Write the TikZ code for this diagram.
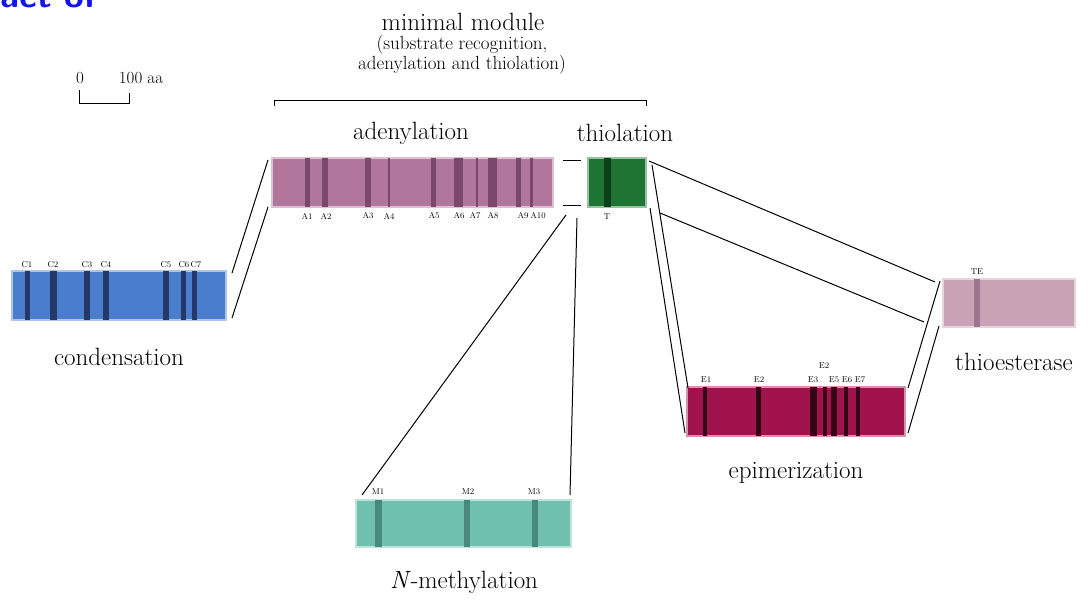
\documentclass[tikz,border=0pt]{standalone}
\usepackage{tikz}
\usepackage{amsmath}
\usepackage{amssymb}

\definecolor{condcol}{RGB}{74,126,204}
\definecolor{condbar}{RGB}{36,56,104}
\definecolor{adencol}{RGB}{176,118,156}
\definecolor{adenbar}{RGB}{122,72,108}
\definecolor{thiocol}{RGB}{30,116,50}
\definecolor{thiobar}{RGB}{14,62,26}
\definecolor{nmethcol}{RGB}{112,192,176}
\definecolor{nmethbar}{RGB}{72,136,126}
\definecolor{epimcol}{RGB}{160,18,76}
\definecolor{epimbar}{RGB}{52,2,22}
\definecolor{thioecol}{RGB}{202,162,182}
\definecolor{thioebar}{RGB}{160,116,142}
\definecolor{notecol}{RGB}{20,20,240}

\begin{document}
\begin{tikzpicture}[x=1pt, y=-1pt,
		domain/.style={fill=#1, draw=#1!45!white, line width=1.2pt, inner sep=0pt, outer sep=0pt},
		bigtext/.style={font=\fontsize{25}{27}\selectfont, inner sep=0pt},
		subtext/.style={font=\fontsize{19}{21}\selectfont, inner sep=0pt},
		scaletext/.style={font=\fontsize{17}{19}\selectfont, inner sep=0pt},
		tag/.style={font=\fontsize{8.5}{9}\selectfont, inner sep=0pt},
		link/.style={line width=1pt}]
				\useasboundingbox (0, 0) rectangle (1091, 601);
				\node[anchor=base west, text=notecol, font=\fontsize{36}{38}\selectfont\sffamily\bfseries] (note)at(-3, 8) {act of};
				% scale bar
				\node[scaletext] (sc0)at(80, 78) {0};
				\node[scaletext] (sc100)at(141, 78) {100 aa};
				\draw[line width=0.8pt] (79, 90) -- (79, 103) -- (129, 103) -- (129, 93);
				% module title
				\node[bigtext] (title)at(463, 22) {minimal module};
				\node[subtext] (sub1)at(462, 45) {(substrate recognition,};
				\node[subtext] (sub2)at(462, 65) {adenylation and thiolation)};
				\node[bigtext] (adenlbl)at(411, 133) {adenylation};
				\node[bigtext] (thiolbl)at(625, 133) {thiolation};
				\node[bigtext] (condlbl)at(119, 357) {condensation};
				\node[bigtext] (epimlbl)at(796, 473) {epimerization};
				\node[bigtext] (thioelbl)at(1014, 362) {thioesterase};
				\node[bigtext] (nmethlbl)at(464, 582) {\textit{N}-methylation};
				% domains
				\node[domain=condcol, minimum width=214pt, minimum height=49pt] (cond)at(119, 295.5) {};
				\node[domain=adencol, minimum width=281pt, minimum height=49pt] (aden)at(412.5, 182.5) {};
				\node[domain=thiocol, minimum width=58pt, minimum height=49pt] (thio)at(617, 182.5) {};
				\node[domain=nmethcol, minimum width=215pt, minimum height=47pt] (nmeth)at(463.5, 523.5) {};
				\node[domain=epimcol, minimum width=218pt, minimum height=49pt] (epim)at(796, 411.5) {};
				\node[domain=thioecol, minimum width=132pt, minimum height=48pt] (thioe)at(1009, 303) {};
				% motifs
				\fill[condbar] (25, 271) rectangle (30, 320);
				\fill[condbar] (50, 271) rectangle (57, 320);
				\fill[condbar] (84, 271) rectangle (90, 320);
				\fill[condbar] (103, 271) rectangle (109, 320);
				\fill[condbar] (163, 271) rectangle (169, 320);
				\fill[condbar] (181, 271) rectangle (186, 320);
				\fill[condbar] (192, 271) rectangle (197, 320);
				\fill[adenbar] (305, 158) rectangle (310, 207);
				\fill[adenbar] (322, 158) rectangle (328, 207);
				\fill[adenbar] (365, 158) rectangle (371, 207);
				\fill[adenbar] (388, 158) rectangle (390, 207);
				\fill[adenbar] (431, 158) rectangle (436, 207);
				\fill[adenbar] (454, 158) rectangle (463, 207);
				\fill[adenbar] (476, 158) rectangle (478, 207);
				\fill[adenbar] (488, 158) rectangle (497, 207);
				\fill[adenbar] (516, 158) rectangle (521, 207);
				\fill[adenbar] (530, 158) rectangle (533, 207);
				\fill[thiobar] (604, 158) rectangle (611, 207);
				\fill[nmethbar] (375, 500) rectangle (382, 547);
				\fill[nmethbar] (464, 500) rectangle (470, 547);
				\fill[nmethbar] (532, 500) rectangle (538, 547);
				\fill[epimbar] (703, 387) rectangle (707, 436);
				\fill[epimbar] (756, 387) rectangle (761, 436);
				\fill[epimbar] (810, 387) rectangle (817, 436);
				\fill[epimbar] (823, 387) rectangle (827, 436);
				\fill[epimbar] (831, 387) rectangle (837, 436);
				\fill[epimbar] (844, 387) rectangle (848, 436);
				\fill[epimbar] (856, 387) rectangle (860, 436);
				\fill[thioebar] (974, 279) rectangle (980, 327);
				% motif names
				\node[tag] (c1)at(27, 265) {C1};
				\node[tag] (c2)at(53, 265) {C2};
				\node[tag] (c3)at(87, 265) {C3};
				\node[tag] (c4)at(106, 265) {C4};
				\node[tag] (c5)at(166, 265) {C5};
				\node[tag] (c6)at(184, 265) {C6};
				\node[tag] (c7)at(196, 265) {C7};
				\node[tag] (a1)at(307, 216) {A1};
				\node[tag] (a2)at(326, 216) {A2};
				\node[tag] (a3)at(368, 216) {A3};
				\node[tag] (a4)at(389, 216) {A4};
				\node[tag] (a5)at(434, 216) {A5};
				\node[tag] (a6)at(459, 216) {A6};
				\node[tag] (a7)at(475, 216) {A7};
				\node[tag] (a8)at(493, 216) {A8};
				\node[tag] (a9)at(523, 216) {A9};
				\node[tag] (a10)at(538, 216) {A10};
				\node[tag] (t)at(607, 217) {T};
				\node[tag] (m1)at(378, 492) {M1};
				\node[tag] (m2)at(468, 492) {M2};
				\node[tag] (m3)at(534, 492) {M3};
				\node[tag] (e1)at(706, 380) {E1};
				\node[tag] (e2)at(759, 380) {E2};
				\node[tag] (e3)at(813, 380) {E3};
				\node[tag] (e4)at(824, 366) {E2};
				\node[tag] (e5)at(834, 380) {E5};
				\node[tag] (e6)at(847, 380) {E6};
				\node[tag] (e7)at(860, 380) {E7};
				\node[tag] (te)at(977, 272) {TE};
				% bracket
				\draw[line width=0.8pt] ([shift={(2, -52)}]aden.north west) -- ([shift={(2, -58)}]aden.north west) -- ([shift={(0, -58)}]thio.north east) -- ([shift={(0, -52)}]thio.north east);
				% expansions
				\draw[link] ([shift={(6, 2)}]cond.north east) -- ([shift={(-4, 2)}]aden.north west);
				\draw[link] ([shift={(6, -2)}]cond.south east) -- ([shift={(-4, 0)}]aden.south west);
				\draw[link] ([shift={(10, 3)}]aden.north east) -- ([shift={(-7, 3)}]thio.north west);
				\draw[link] ([shift={(10, -1)}]aden.south east) -- ([shift={(-7, -1)}]thio.south west);
				\draw[link] ([shift={(13, 8)}]aden.south east) -- ([shift={(6, -5)}]nmeth.north west);
				\draw[link] ([shift={(-11, 11)}]thio.south west) -- ([shift={(-1, -5)}]nmeth.north east);
				\draw[link] ([shift={(3, 3)}]thio.north east) -- ([shift={(-8, 3)}]thioe.north west);
				\draw[link] ([shift={(14, 6)}]thio.south east) -- ([shift={(-19, -5)}]thioe.south west);
				\draw[link] ([shift={(6, 7)}]thio.north east) -- ([shift={(1, 1)}]epim.north west);
				\draw[link] ([shift={(4, 1)}]thio.south east) -- ([shift={(-2, -3)}]epim.south west);
				\draw[link] ([shift={(3, 1)}]epim.north east) -- ([shift={(-3, 2)}]thioe.north west);
				\draw[link] ([shift={(3, -3)}]epim.south east) -- ([shift={(-4, -1)}]thioe.south west);
			\end{tikzpicture}
\end{document}
